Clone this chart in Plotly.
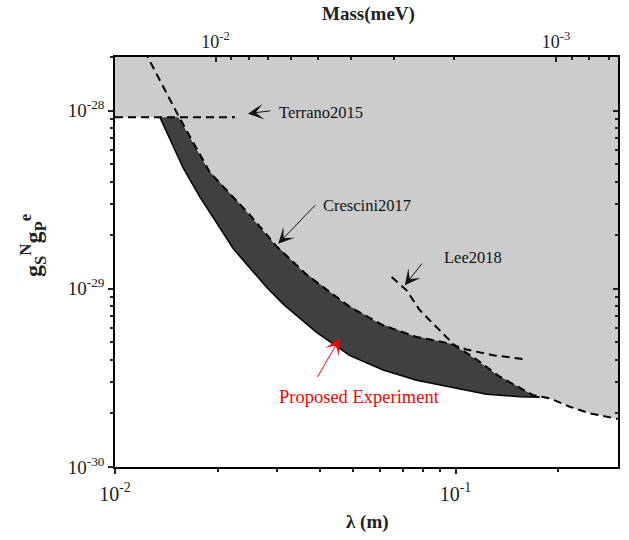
import numpy as np
import plotly.graph_objects as go

# ---------------- data (lambda in m, coupling g_S^N g_P^e) ----------------
HBARC_MEV_M = 1.97327e-4  # hbar*c in meV*m, mass = hbarc / lambda

terrano_lam = [0.01, 0.0225]
terrano_g = [9.17e-29, 9.17e-29]

crescini_lam = [0.0122, 0.01534, 0.0190, 0.02489, 0.02983, 0.03653, 0.04896,
                0.0613, 0.07683, 0.09623, 0.1077, 0.1289, 0.1616]
crescini_g = [2.17e-28, 9.38e-29, 4.5e-29, 2.6e-29, 1.73e-29, 1.2e-29, 7.91e-30,
              6.24e-30, 5.37e-30, 4.93e-30, 4.56e-30, 4.24e-30, 4.01e-30]

lee_lam = [0.06493, 0.07184, 0.07856, 0.09196, 0.1, 0.1126, 0.1349, 0.1690,
           0.1891, 0.2165, 0.2478, 0.3]
lee_g = [1.165e-29, 9.81e-30, 7.58e-30, 5.61e-30, 4.76e-30, 4.15e-30, 3.21e-30,
         2.53e-30, 2.43e-30, 2.18e-30, 2.00e-30, 1.86e-30]

proposed_lam = [0.01355, 0.01587, 0.01776, 0.01989, 0.02224, 0.02489, 0.02788,
                0.03119, 0.03908, 0.04896, 0.0613, 0.07683, 0.09623, 0.1233,
                0.1544, 0.1768]
proposed_g = [9.17e-29, 4.75e-29, 3.27e-29, 2.32e-29, 1.68e-29, 1.31e-29, 1.02e-29,
              8.2e-30, 5.70e-30, 4.22e-30, 3.50e-30, 3.07e-30, 2.82e-30, 2.56e-30,
              2.48e-30, 2.46e-30]

x_range = [0.01, 0.3]
y_range = [1e-30, 2e-28]
x_ticks = [0.01, 0.1]
x_ticktext = ["10<sup>-2</sup>", "10<sup>-1</sup>"]
y_ticks = [1e-30, 1e-29, 1e-28]
y_ticktext = ["10<sup>-30</sup>", "10<sup>-29</sup>", "10<sup>-28</sup>"]
mass_ticks = [1e-2, 1e-3]
mass_ticktext = ["10<sup>-2</sup>", "10<sup>-3</sup>"]


# ---------------- derived envelope of existing limits ----------------
def log_interp(grid, lam, g):
    lg = np.log10(grid)
    ll = np.log10(lam)
    out = 10 ** np.interp(lg, ll, np.log10(g))
    out[(lg < ll[0] - 1e-12) | (lg > ll[-1] + 1e-12)] = np.nan
    return out


grid = np.unique(np.concatenate([
    np.logspace(np.log10(x_range[0]), np.log10(x_range[1]), 800),
    terrano_lam, crescini_lam, lee_lam, proposed_lam]))
grid = grid[(grid >= x_range[0]) & (grid <= x_range[1])]
env = np.nanmin(np.vstack([log_interp(grid, terrano_lam, terrano_g),
                           log_interp(grid, crescini_lam, crescini_g),
                           log_interp(grid, lee_lam, lee_g)]), axis=0)

gray_x = list(grid) + [x_range[1], x_range[0]]
gray_y = list(env) + [y_range[1], y_range[1]]

mask = (grid >= proposed_lam[0]) & (grid <= proposed_lam[-1])
dark_x = list(proposed_lam) + list(grid[mask][::-1])
dark_y = list(proposed_g) + list(env[mask][::-1])

FONT = "Liberation Serif"
DASH = "8px,5px"
INK = "#222"

fig = go.Figure()
fig.add_trace(go.Scatter(x=gray_x, y=gray_y, fill="toself", mode="lines",
                         fillcolor="#cccccc", line=dict(width=0), hoverinfo="skip",
                         showlegend=False))
fig.add_trace(go.Scatter(x=dark_x, y=dark_y, fill="toself", mode="lines",
                         fillcolor="#404040", line=dict(width=0), hoverinfo="skip",
                         showlegend=False))
fig.add_trace(go.Scatter(x=proposed_lam, y=proposed_g, mode="lines",
                         line=dict(color="black", width=1.5), showlegend=False))
fig.add_trace(go.Scatter(x=crescini_lam, y=crescini_g, mode="lines",
                         line=dict(color="black", width=2, dash=DASH), showlegend=False))
fig.add_trace(go.Scatter(x=terrano_lam, y=terrano_g, mode="lines", xaxis="x2",
                         line=dict(color="black", width=2, dash=DASH), showlegend=False))
fig.add_trace(go.Scatter(x=lee_lam, y=lee_g, mode="lines", yaxis="y2",
                         line=dict(color="black", width=2, dash=DASH), showlegend=False))

lx = [np.log10(v) for v in x_range]
ly = [np.log10(v) for v in y_range]

minor_x = [k * 10.0 ** e for e in (-2, -1) for k in range(2, 10)]
minor_x = [v for v in minor_x if x_range[0] < v <= x_range[1] and v not in x_ticks]
minor_y = [k * 10.0 ** e for e in (-30, -29, -28) for k in range(2, 10)]
minor_y = [v for v in minor_y if y_range[0] < v <= y_range[1]]
mass_minor = [k * 10.0 ** e for e in (-3, -4) for k in range(2, 10)]
mass_minor_lam = [HBARC_MEV_M / m for m in mass_minor
                  if x_range[0] <= HBARC_MEV_M / m <= x_range[1]]
mass_major_lam = [HBARC_MEV_M / m for m in mass_ticks]

axis_common = dict(type="log", showgrid=False, zeroline=False, showline=True,
                   linecolor="black", linewidth=1.5, tickcolor=INK,
                   tickwidth=1.5, automargin=False)

fig.update_layout(
    width=629, height=540,
    margin=dict(l=115, r=11, t=57, b=73),
    plot_bgcolor="white", paper_bgcolor="white",
    font=dict(family=FONT, color=INK),
    xaxis=dict(**axis_common, range=lx, tickmode="array", tickvals=x_ticks,
               ticktext=x_ticktext, ticks="outside", ticklen=5, ticklabelstandoff=3,
               tickfont=dict(size=20, family=FONT, color=INK),
               minor=dict(tickmode="array", tickvals=minor_x, ticks="outside",
                          ticklen=3, tickcolor=INK, tickwidth=1.5)),
    xaxis2=dict(**axis_common, range=lx, overlaying="x", side="top",
                tickmode="array", tickvals=mass_major_lam, ticktext=mass_ticktext,
                ticks="inside", ticklen=5,
                tickfont=dict(size=18, family=FONT, color=INK),
                minor=dict(tickmode="array", tickvals=mass_minor_lam, ticks="inside",
                           ticklen=3, tickcolor=INK, tickwidth=1.5)),
    yaxis=dict(**axis_common, range=ly, tickmode="array", tickvals=y_ticks,
               ticktext=y_ticktext, ticks="outside", ticklen=5,
               tickfont=dict(size=19, family=FONT, color=INK),
               minor=dict(tickmode="array", tickvals=minor_y, ticks="outside",
                          ticklen=3, tickcolor=INK, tickwidth=1.5)),
    yaxis2=dict(**axis_common, range=ly, overlaying="y", side="right",
                tickmode="array", tickvals=y_ticks, showticklabels=False,
                ticks="inside", ticklen=5,
                minor=dict(tickmode="array", tickvals=minor_y, ticks="inside",
                           ticklen=3, tickcolor=INK, tickwidth=1.5)),
)

# axis titles (paper coordinates)
fig.add_annotation(x=0.501, y=-0.134, xref="paper", yref="paper", showarrow=False,
                   text="<b>λ (m)</b>", font=dict(size=19, family=FONT, color=INK),
                   xanchor="center", yanchor="middle")
fig.add_annotation(x=0.503, y=1.105, xref="paper", yref="paper", showarrow=False,
                   text="<b>Mass(meV)</b>", font=dict(size=19, family=FONT, color=INK),
                   xanchor="center", yanchor="middle")
fig.add_annotation(x=-0.163, y=0.5415, xref="paper", yref="paper", showarrow=False,
                   text="<b>g<sub>S</sub><sup>N</sup>g<sub>P</sub><sup>e</sup></b>",
                   textangle=-90, font=dict(size=24, family=FONT, color=INK),
                   xanchor="center", yanchor="middle")

arrows = [
    # head at x,y ; tail at ax,ay  (log10 data coordinates)
    dict(x=-1.6096, y=-28.0168, ax=-1.5392, ay=-28.0, color="#111"),
    dict(x=-1.5207, y=-28.7468, ax=-1.408, ay=-28.5227, color="#111"),
    dict(x=-1.1488, y=-28.9804, ax=-1.0951, ay=-28.8499, color="#111"),
    dict(x=-1.3396, y=-29.279, ax=-1.408, ay=-29.5031, color="red"),
]
for a in arrows:
    fig.add_annotation(x=a["x"], y=a["y"], ax=a["ax"], ay=a["ay"], xref="x", yref="y",
                       axref="x", ayref="y", text="", showarrow=True, arrowhead=3,
                       arrowsize=2.6, arrowwidth=1, arrowcolor=a["color"])

labels = [
    ("Terrano2015", -1.5245, -28.0112, "left", "#111", 16.5),
    ("Crescini2017", -1.3962, -28.5322, "left", "#111", 16.5),
    ("Lee2018", -1.0411, -28.8235, "left", "#111", 16.5),
    ("Proposed Experiment", -1.2809, -29.6062, "center", "red", 18.5),
]
for text, x, y, anchor, col, size in labels:
    fig.add_annotation(x=x, y=y, xref="x", yref="y", text=text, showarrow=False,
                       xanchor=anchor, yanchor="middle",
                       font=dict(family=FONT, size=size, color=col))

# remove the default 8px page margin so the figure sits at the window origin
fig.write_html("out.html",
               config={"displayModeBar": False},
               post_script="document.body.style.margin='0px';"
                           "document.body.style.overflow='hidden';")
